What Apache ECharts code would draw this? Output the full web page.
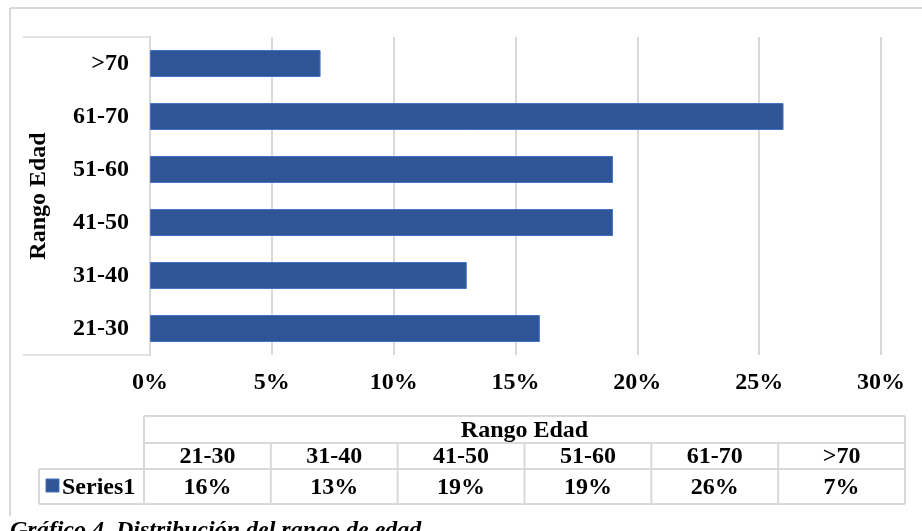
<!DOCTYPE html>
<html>
<head>
<meta charset="utf-8">
<script src="https://cdn.jsdelivr.net/npm/echarts@6/dist/echarts.min.js"></script>
<style>
html,body{margin:0;padding:0;background:#fff;}
#chart{width:922px;height:531px;}
</style>
</head>
<body>
<div id="chart"></div>
<script>
// ---- data ----
const categories = ['21-30', '31-40', '41-50', '51-60', '61-70', '>70'];
const seriesName = 'Series1';
const values = [16, 13, 19, 19, 26, 7];
const axisTitle = 'Rango Edad';
const xTicks = [0, 5, 10, 15, 20, 25, 30];
const caption = 'Gráfico 4. Distribución del rango de edad';

// ---- style ----
const FONT = '"Liberation Serif", "Times New Roman", serif';
const FS = 24;
const GRAY = '#d9d9d9';
const BAR = '#2F5597';
const BAR_BORDER = '#4472C4';

const chart = echarts.init(document.getElementById('chart'), null, {renderer: 'canvas'});

// data table geometry
const tL = 144, tR = 905, sL = 39;
const rY = [416, 443, 469, 504];
const colW = (tR - tL) / categories.length;
const g = [];
function line(x1, y1, x2, y2, lw, col) {
  g.push({type: 'line', shape: {x1, y1, x2, y2}, style: {stroke: col || GRAY, lineWidth: lw || 2}, silent: true});
}
function text(x, y, t, align, extra) {
  g.push({type: 'text', x, y, style: Object.assign({text: t, fill: '#000', font: 'bold ' + FS + 'px ' + FONT, align: align || 'center', verticalAlign: 'middle'}, extra || {}), silent: true});
}
// outer frame
line(10, 8, 922, 8, 2);
line(10, 8, 10, 516, 2);
// y axis label box
line(23, 37, 150, 37, 1.5);
line(23, 355, 150, 355, 1.5);
// table lines
line(tL, rY[0], tR, rY[0]);
line(tL, rY[1], tR, rY[1]);
line(sL, rY[2], tR, rY[2]);
line(sL, rY[3], tR, rY[3]);
line(tL, rY[0], tL, rY[3]);
line(tR, rY[0], tR, rY[3]);
line(sL, rY[2], sL, rY[3]);
for (let i = 1; i < categories.length; i++) {
  line(tL + i * colW, rY[1], tL + i * colW, rY[3]);
}
text((tL + tR) / 2, (rY[0] + rY[1]) / 2 + 1, axisTitle);
categories.forEach((c, i) => {
  text(tL + (i + 0.5) * colW, (rY[1] + rY[2]) / 2 + 1, c);
  text(tL + (i + 0.5) * colW, (rY[2] + rY[3]) / 2 + 1, values[i] + '%');
});
g.push({type: 'rect', shape: {x: 46, y: 479, width: 13, height: 13}, style: {fill: BAR, stroke: BAR_BORDER, lineWidth: 1}, silent: true});
text(62, (rY[2] + rY[3]) / 2 + 1, seriesName, 'left');
// caption
g.push({type: 'text', x: 10, y: 531, style: {text: caption, fill: '#000', font: 'italic bold ' + FS + 'px ' + FONT, align: 'left', verticalAlign: 'middle'}, silent: true});

chart.setOption({
  animation: false,
  backgroundColor: '#fff',
  grid: {left: 150, right: 41, top: 37, bottom: 176, containLabel: false},
  xAxis: {
    type: 'value', min: xTicks[0], max: xTicks[xTicks.length - 1], interval: xTicks[1] - xTicks[0],
    axisLine: {show: false}, axisTick: {show: false},
    splitLine: {show: true, lineStyle: {color: GRAY, width: 2}},
    axisLabel: {formatter: '{value}%', color: '#000', fontFamily: FONT, fontWeight: 'bold', fontSize: FS, margin: 16}
  },
  yAxis: {
    type: 'category', data: categories,
    name: axisTitle, nameLocation: 'middle', nameRotate: 90, nameGap: 99,
    nameTextStyle: {color: '#000', fontFamily: FONT, fontWeight: 'bold', fontSize: FS},
    axisLine: {show: true, lineStyle: {color: GRAY, width: 2}}, axisTick: {show: false},
    axisLabel: {color: '#000', fontFamily: FONT, fontWeight: 'bold', fontSize: FS, margin: 21}
  },
  series: [{
    name: seriesName, type: 'bar', data: values, barWidth: 27,
    itemStyle: {color: BAR, borderColor: BAR_BORDER, borderWidth: 1}
  }],
  graphic: g
});
</script>
</body>
</html>
